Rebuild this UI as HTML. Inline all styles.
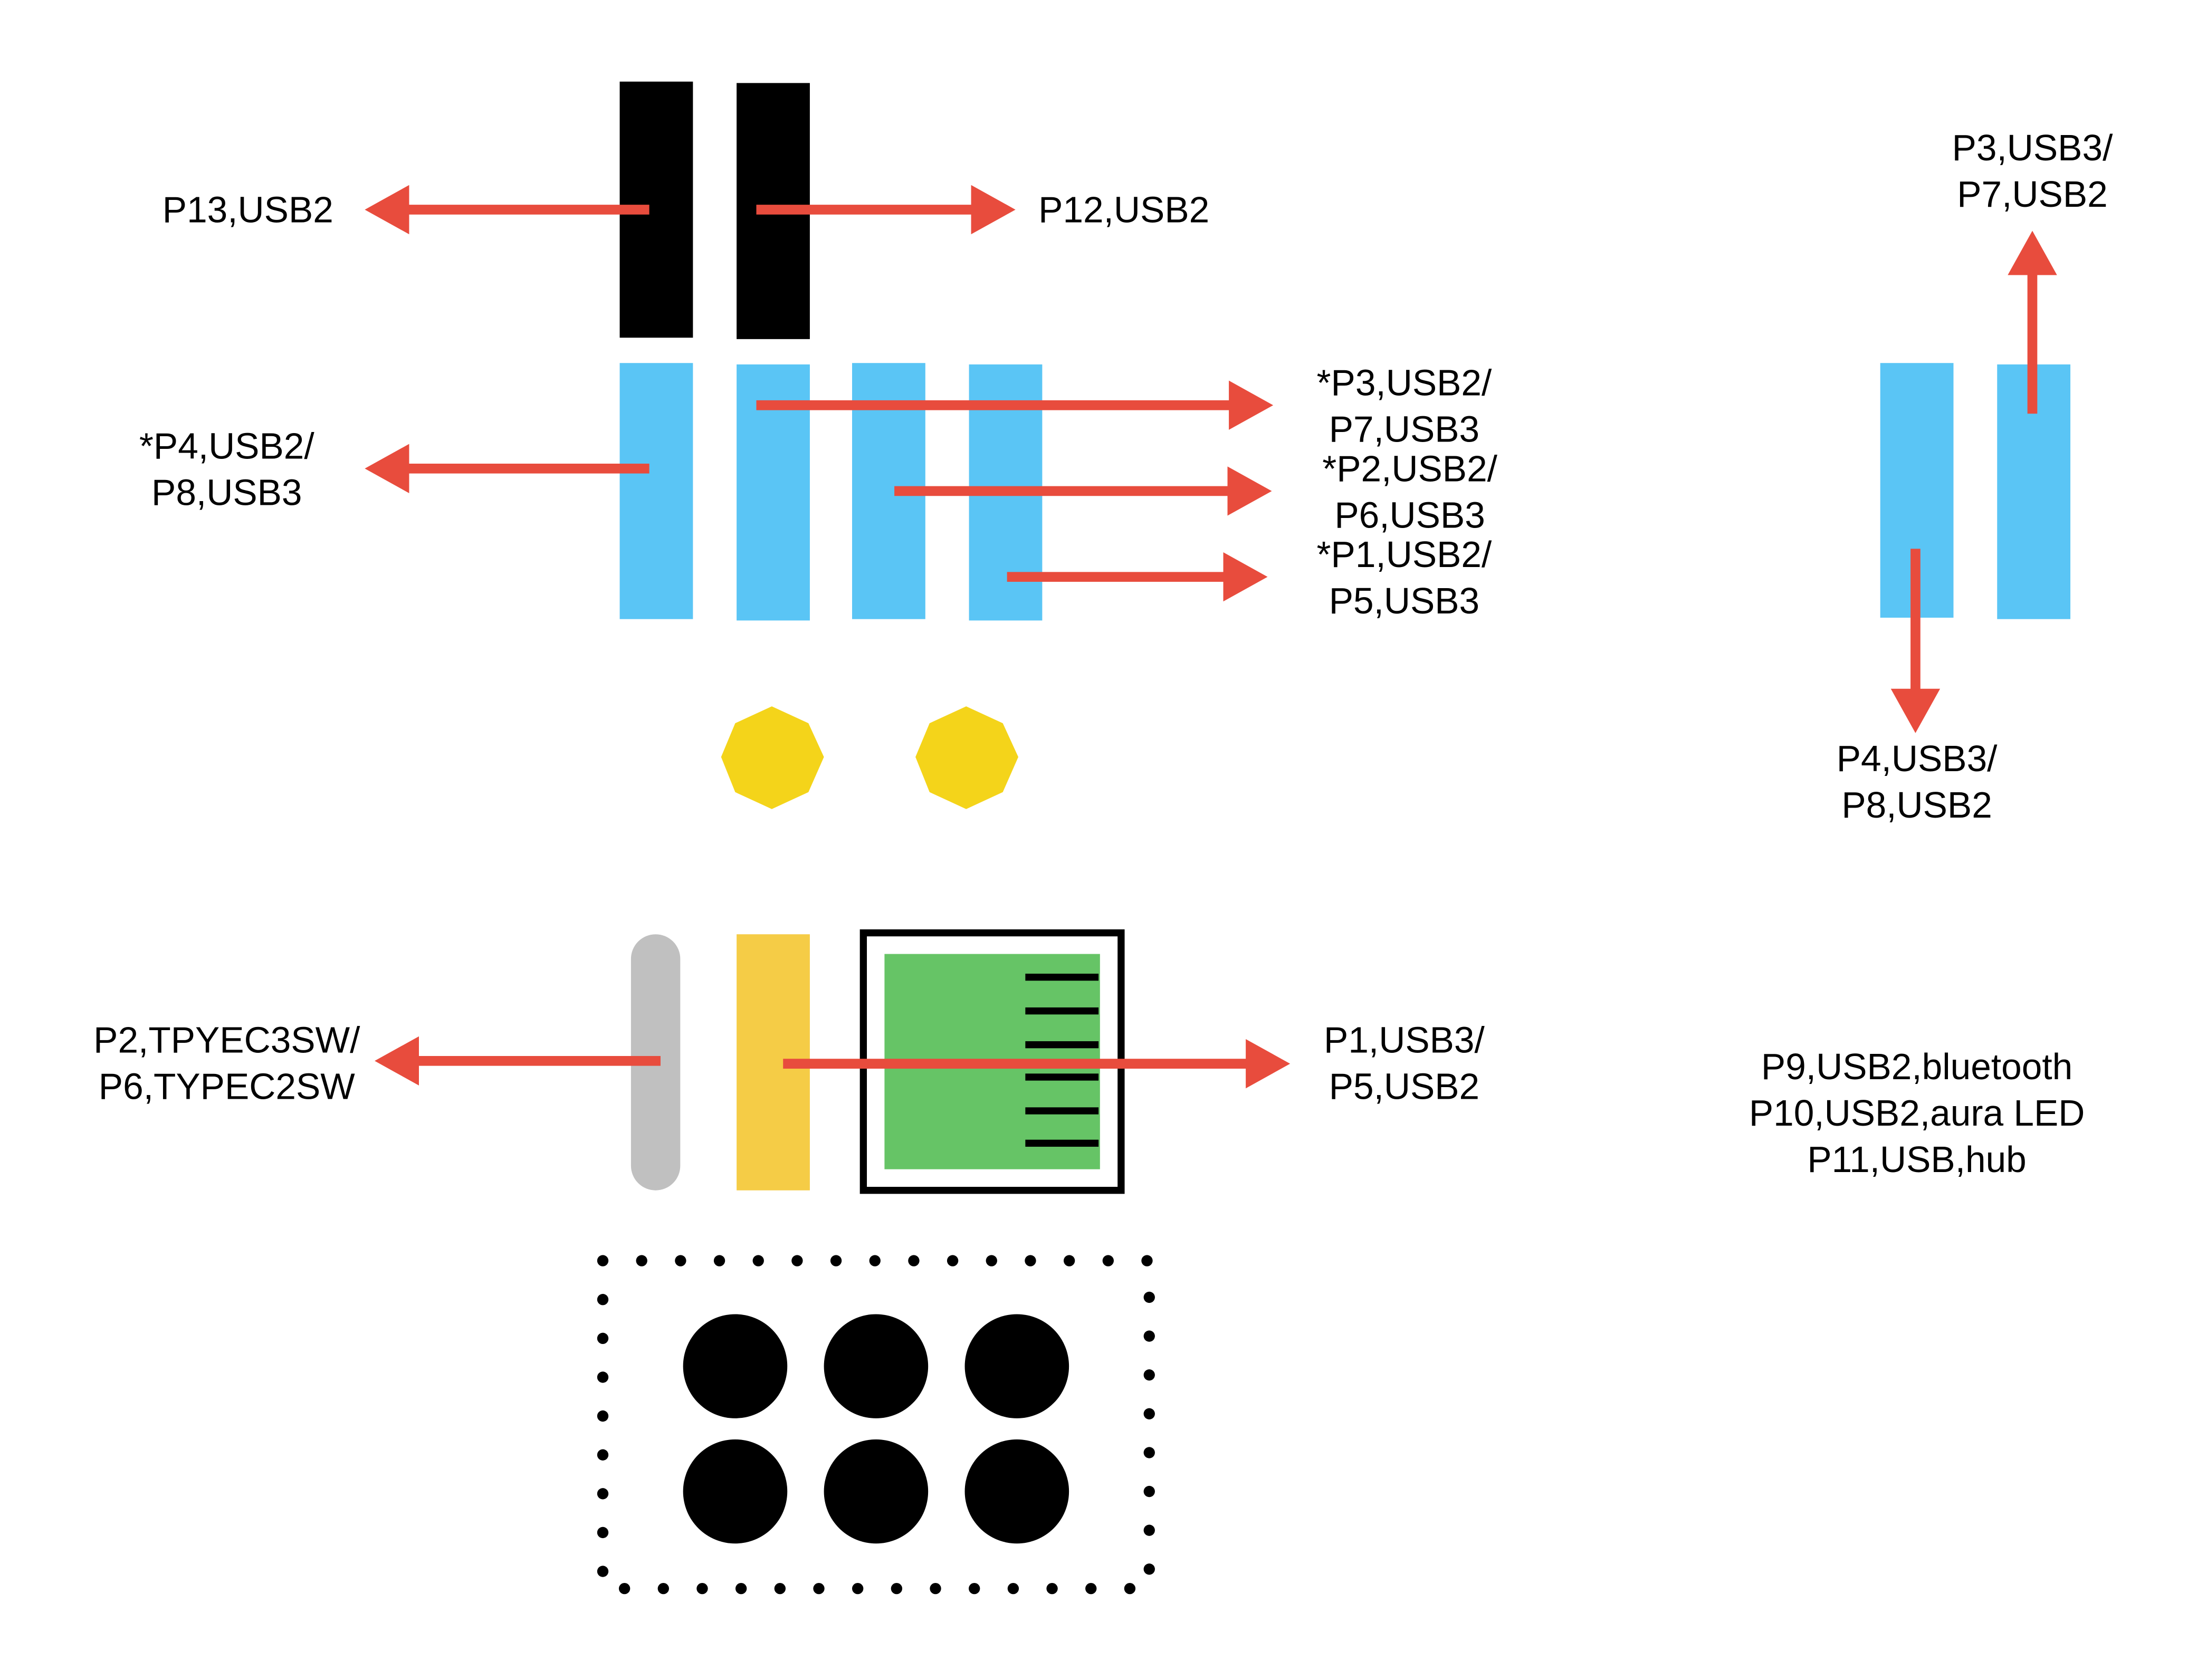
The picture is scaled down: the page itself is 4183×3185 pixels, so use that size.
<!DOCTYPE html>
<html><head><meta charset="utf-8"><style>html,body{margin:0;padding:0;background:#fff}svg{display:block}</style></head>
<body>
<svg xmlns="http://www.w3.org/2000/svg" width="4183" height="3185" viewBox="0 0 1567 1194" preserveAspectRatio="none">
<defs>
<marker id="a" markerWidth="5" markerHeight="5" refX="0.5" refY="2.5" orient="auto" markerUnits="strokeWidth"><path d="M0,0 L4.5,2.5 L0,5 Z" fill="#e84c3d"/></marker>
</defs>
<rect width="1567" height="1194" fill="#fff"/>
<rect x="440" y="58" width="52" height="182" fill="#000"/>
<rect x="523" y="59" width="52" height="182" fill="#000"/>
<g fill="#5ac5f5">
<rect x="440" y="258" width="52" height="182"/>
<rect x="523" y="259" width="52" height="182"/>
<rect x="605" y="258" width="52" height="182"/>
<rect x="688" y="259" width="52" height="182"/>
<rect x="1335" y="258" width="52" height="181"/>
<rect x="1418" y="259" width="52" height="181"/>
</g>
<g fill="#f4d41a">
<polygon points="548,502 574,514 585,538 574,563 548,575 522,563 512,538 522,514"/>
<polygon points="686,502 712,514 723,538 712,563 686,575 660,563 650,538 660,514"/>
</g>
<rect x="448" y="664" width="35" height="182" rx="17.5" fill="#c0c0c0"/>
<rect x="523" y="664" width="52" height="182" fill="#f5cc46"/>
<rect x="613" y="663" width="183" height="183" fill="#fff" stroke="#000" stroke-width="5"/>
<rect x="628" y="678" width="153" height="153" fill="#66c466"/>
<g fill="#000">
<rect x="728" y="692" width="52" height="5"/><rect x="728" y="716" width="52" height="5"/><rect x="728" y="740" width="52" height="5"/>
<rect x="728" y="763" width="52" height="5"/><rect x="728" y="787" width="52" height="5"/><rect x="728" y="810" width="52" height="5"/>
</g>
<g fill="#000">
<circle cx="522" cy="971" r="37"/><circle cx="622" cy="971" r="37"/><circle cx="722" cy="971" r="37"/>
<circle cx="522" cy="1060" r="37"/><circle cx="622" cy="1060" r="37"/><circle cx="722" cy="1060" r="37"/>
</g>
<rect x="428" y="896" width="388" height="233" fill="none" stroke="#000" stroke-width="8" stroke-linecap="round" stroke-dasharray="0 27.6"/>
<g stroke="#e84c3d" stroke-width="7" fill="none" marker-end="url(#a)">
<line x1="461" y1="149" x2="287" y2="149"/>
<line x1="537" y1="149" x2="693" y2="149"/>
<line x1="537" y1="288" x2="876" y2="288"/>
<line x1="461" y1="333" x2="287" y2="333"/>
<line x1="635" y1="349" x2="875" y2="349"/>
<line x1="715" y1="410" x2="872" y2="410"/>
<line x1="1443" y1="294" x2="1443" y2="192"/>
<line x1="1360" y1="390" x2="1360" y2="493"/>
<line x1="469" y1="754" x2="294" y2="754"/>
<line x1="556" y1="756" x2="888" y2="756"/>
</g>
<g font-family="Liberation Sans, sans-serif" font-size="26" fill="#000" text-anchor="middle">
<text x="176" y="158">P13,USB2</text>
<text x="798" y="158">P12,USB2</text>
<text x="1443" y="114">P3,USB3/</text><text x="1443" y="147">P7,USB2</text>
<text x="997" y="281">*P3,USB2/</text><text x="997" y="314">P7,USB3</text>
<text x="161" y="326">*P4,USB2/</text><text x="161" y="359">P8,USB3</text>
<text x="1001" y="342">*P2,USB2/</text><text x="1001" y="375">P6,USB3</text>
<text x="997" y="403">*P1,USB2/</text><text x="997" y="436">P5,USB3</text>
<text x="1361" y="548">P4,USB3/</text><text x="1361" y="581">P8,USB2</text>
<text x="161" y="748">P2,TPYEC3SW/</text><text x="161" y="781">P6,TYPEC2SW</text>
<text x="997" y="748">P1,USB3/</text><text x="997" y="781">P5,USB2</text>
<text x="1361" y="767">P9,USB2,bluetooth</text>
<text x="1361" y="800">P10,USB2,aura LED</text>
<text x="1361" y="833">P11,USB,hub</text>
</g>
</svg>
</body></html>
